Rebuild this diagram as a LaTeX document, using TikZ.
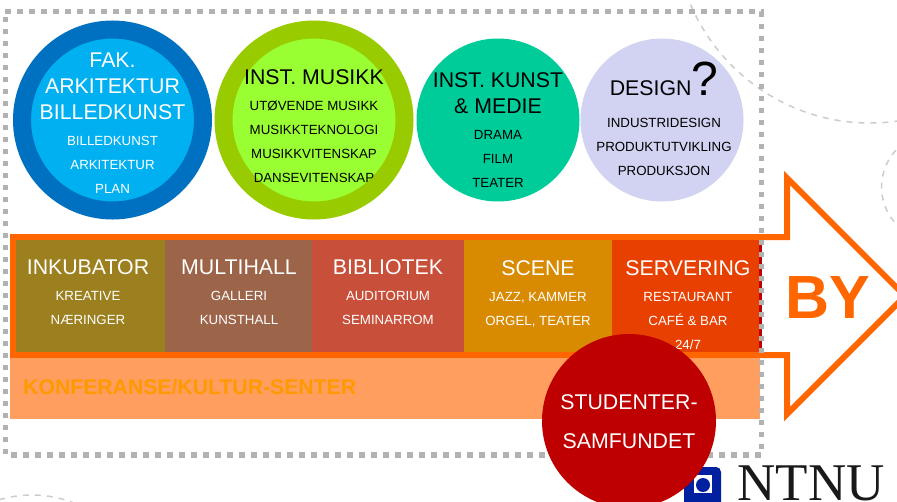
\documentclass[tikz,border=0pt]{standalone}
\usepackage{fontspec}
\setmainfont{Liberation Sans}
\newfontfamily\logofont{Liberation Serif}
\definecolor{fakring}{HTML}{0070C0}
\definecolor{fakfill}{HTML}{00B0F0}
\definecolor{musring}{HTML}{99CC00}
\definecolor{musfill}{HTML}{99FF33}
\definecolor{kunstfill}{HTML}{00CC99}
\definecolor{designfill}{HTML}{D2D2F2}
\definecolor{bandorange}{HTML}{FF6600}
\definecolor{konffill}{HTML}{FF9E5E}
\definecolor{konftext}{HTML}{FF9900}
\definecolor{studred}{HTML}{BE0000}
\definecolor{ntnublue}{HTML}{0020A0}
\definecolor{inkubfill}{HTML}{9C7F1E}
\definecolor{multifill}{HTML}{9C654A}
\definecolor{bibfill}{HTML}{C8503A}
\definecolor{scenefill}{HTML}{D88A00}
\definecolor{servfill}{HTML}{E84000}
\tikzset{ring/.style={circle,draw,inner sep=0,outer sep=0,minimum size=181pt,line width=18pt},
    disc/.style={circle,inner sep=0,outer sep=0,minimum size=163pt},
    cell/.style={inner sep=0,outer sep=0,minimum height=111.5pt,anchor=north west},
    bigtxt/.style={inner sep=0,anchor=base,font=\fontsize{21.3}{24}\selectfont},
    smalltxt/.style={inner sep=0,anchor=base,font=\fontsize{13.3}{16}\selectfont},
    faint/.style={draw=black!20,line width=1.5pt,dash pattern=on 6pt off 6pt}}

\begin{document}
\begin{tikzpicture}[x=1pt,y=-1pt]
            \useasboundingbox (0,0) rectangle (897,501);
            \clip (0,0) rectangle (897,501);
            % background arcs
            \draw[faint] (870,-72) circle (195);
            \draw[faint] (935.5,187) circle (54);
            \draw[faint] (32,609) circle (114);
            % top row
            \node[ring,draw=fakring,fill=fakfill] (fak) at (112.5,120) {};
            \node[ring,draw=musring,fill=musfill] (mus) at (314,120) {};
            \node[disc,fill=kunstfill] (kunst) at (498,120) {};
            \node[disc,fill=designfill] (design) at (662,120) {};
            \begin{scope}[white]
            \node[bigtxt] (fak1) at (112.5,67) {FAK.};
            \node[bigtxt] (fak2) at (112.5,93) {ARKITEKTUR};
            \node[bigtxt] (fak3) at (112.5,119) {BILLEDKUNST};
            \node[smalltxt] (fak4) at (112.5,145) {BILLEDKUNST};
            \node[smalltxt] (fak5) at (112.5,169) {ARKITEKTUR};
            \node[smalltxt] (fak6) at (112.5,193) {PLAN};
            \end{scope}
            \node[bigtxt] (mus1) at (314,84) {INST. MUSIKK};
            \node[smalltxt] (mus2) at (314,110.5) {UTØVENDE MUSIKK};
            \node[smalltxt] (mus3) at (314,134.5) {MUSIKKTEKNOLOGI};
            \node[smalltxt] (mus4) at (314,158) {MUSIKKVITENSKAP};
            \node[smalltxt] (mus5) at (314,182) {DANSEVITENSKAP};
            \node[bigtxt] (kunst1) at (498,87) {INST. KUNST};
            \node[bigtxt] (kunst2) at (498,113) {\& MEDIE};
            \node[smalltxt] (kunst3) at (498,139) {DRAMA};
            \node[smalltxt] (kunst4) at (498,163) {FILM};
            \node[smalltxt] (kunst5) at (498,187) {TEATER};
            \node[bigtxt] (design1) at (664,95) {DESIGN{\fontsize{48}{48}\selectfont ?}};
            \node[smalltxt] (design2) at (664,127) {INDUSTRIDESIGN};
            \node[smalltxt] (design3) at (664,151) {PRODUKTUTVIKLING};
            \node[smalltxt] (design4) at (664,175) {PRODUKSJON};
            % band
            \node[inner sep=0,outer sep=0,anchor=north west,fill=konffill,minimum width=750pt,minimum height=62pt] (konf) at (10,357) {};
            \node[inner sep=0,outer sep=0,anchor=north west,fill=bandorange,minimum width=751pt,minimum height=123.5pt] (band) at (10,234) {};
            \node[cell,fill=studred,minimum width=3.5pt] (strip) at (758.5,240) {};
            \node[cell,fill=inkubfill,minimum width=149pt] (inkub) at (16,240) {};
            \node[cell,fill=multifill,minimum width=147pt] (multi) at (165,240) {};
            \node[cell,fill=bibfill,minimum width=152pt] (bib) at (312,240) {};
            \node[cell,fill=scenefill,minimum width=148pt] (scene) at (464,240) {};
            \node[cell,fill=servfill,minimum width=147pt] (serv) at (612,240) {};
            \begin{scope}[white]
            \node[bigtxt] (inkub1) at (88,274) {INKUBATOR};
            \node[smalltxt] (inkub2) at (88,300) {KREATIVE};
            \node[smalltxt] (inkub3) at (88,324) {NÆRINGER};
            \node[bigtxt] (multi1) at (239,274) {MULTIHALL};
            \node[smalltxt] (multi2) at (239,300) {GALLERI};
            \node[smalltxt] (multi3) at (239,324) {KUNSTHALL};
            \node[bigtxt] (bib1) at (388,274) {BIBLIOTEK};
            \node[smalltxt] (bib2) at (388,300) {AUDITORIUM};
            \node[smalltxt] (bib3) at (388,324) {SEMINARROM};
            \node[bigtxt] (scene1) at (538,275) {SCENE};
            \node[smalltxt] (scene2) at (538,301) {JAZZ, KAMMER};
            \node[smalltxt] (scene3) at (538,325) {ORGEL, TEATER};
            \node[bigtxt] (serv1) at (688,275) {SERVERING};
            \node[smalltxt] (serv2) at (688,301) {RESTAURANT};
            \node[smalltxt] (serv3) at (688,325) {CAFÉ \& BAR};
            \node[smalltxt] (serv4) at (688,349) {24/7};
            \end{scope}
            \node[bigtxt,anchor=base west,text=konftext,font=\fontsize{21.2}{24}\selectfont\bfseries] (konf1) at (23,394) {KONFERANSE/KULTUR-SENTER};
            % arrow to the city
            \draw[bandorange,line width=6pt,miter limit=10] (761,237) -- (787,237) -- (787,178) -- (905,296) -- (787,414) -- (787,355) -- (761,355);
            \node[inner sep=0,anchor=base,text=bandorange,font=\fontsize{61}{61}\selectfont\bfseries] (by) at (828,318) {BY};
            % dotted frame
            \draw[black!30,line width=5.5pt,dash pattern=on 5.5pt off 6.5pt] (5.3,11.7) -- (761.3,11.7) -- (761.3,455) -- (5.3,455) -- cycle;
            % logo
            \node[inner sep=0,outer sep=0,anchor=north west,fill=ntnublue,rounded corners=5pt,minimum width=37pt,minimum height=45pt] (logobox) at (684,467) {};
            \node[inner sep=0,outer sep=0,fill=white,minimum size=18.5pt] (logosq) at (703,484) {};
            \node[inner sep=0,outer sep=0,circle,fill=ntnublue,minimum size=14pt] (logodot) at (703,485) {};
            \node[inner sep=0,anchor=base,text=black!90,font=\logofont\fontsize{53}{53}\selectfont] (ntnu) at (811,500.5) {NTNU};
            % student society
            \node[inner sep=0,outer sep=0,circle,fill=studred,minimum size=174pt] (stud) at (629,421) {};
            \node[bigtxt,white] (stud1) at (629,409) {STUDENTER-};
            \node[bigtxt,white] (stud2) at (629,448) {SAMFUNDET};
        \end{tikzpicture}
\end{document}
